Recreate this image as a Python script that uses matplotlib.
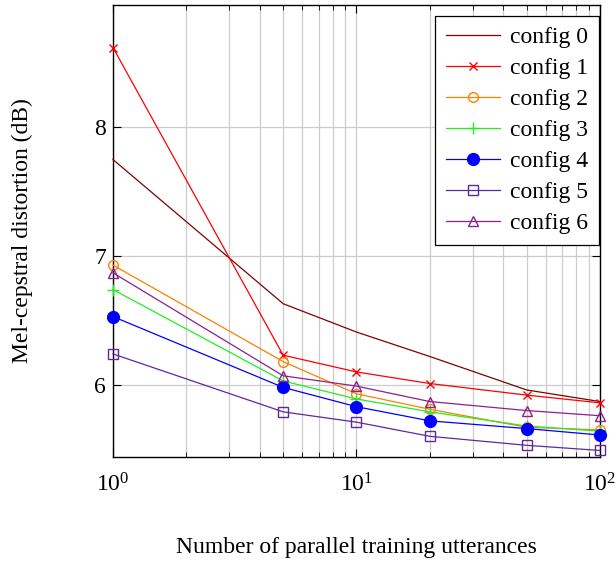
import matplotlib
matplotlib.use("Agg")
import matplotlib.pyplot as plt
from matplotlib.ticker import LogLocator, NullFormatter

plt.rcParams["font.family"] = ["Liberation Serif", "DejaVu Serif"]
plt.rcParams["mathtext.fontset"] = "stix"

n_utts = [1, 5, 10, 20, 50, 100]
config0 = [7.75, 6.63, 6.41, 6.22, 5.96, 5.87]
config1 = [8.62, 6.23, 6.10, 6.01, 5.92, 5.86]
config2 = [6.93, 6.18, 5.93, 5.81, 5.67, 5.65]
config3 = [6.74, 6.03, 5.89, 5.79, 5.68, 5.64]
config4 = [6.53, 5.98, 5.83, 5.72, 5.66, 5.61]
config5 = [6.24, 5.79, 5.71, 5.60, 5.53, 5.49]
config6 = [6.87, 6.07, 5.99, 5.87, 5.80, 5.76]

series = [
    ("config 0", config0, "#800000", None, 7, False),
    ("config 1", config1, "#ff0000", "x", 6, False),
    ("config 2", config2, "#ff8000", "o", 7, False),
    ("config 3", config3, "#22ee22", "+", 8, False),
    ("config 4", config4, "#0000ff", "o", 8.5, True),
    ("config 5", config5, "#5c2a9d", "s", 7.5, False),
    ("config 6", config6, "#8e1f8e", "^", 7, False),
]

fig = plt.figure(figsize=(6.15, 5.62), dpi=100)
ax = fig.add_axes([0.1837, 0.187, 0.7919, 0.804])

for label, vals, col, mk, ms, filled in series:
    ax.plot(n_utts, vals, color=col, lw=0.9, marker=mk, markersize=ms,
            markerfacecolor=col if filled else "none", markeredgecolor=col,
            markeredgewidth=1.0, label=label, clip_on=False, zorder=3)

ax.set_xscale("log")
ax.set_xlim(1, 100)
ax.set_ylim(5.44, 8.95)
ax.set_yticks([6, 7, 8])
ax.xaxis.set_minor_locator(LogLocator(base=10, subs=range(2, 10)))
ax.xaxis.set_minor_formatter(NullFormatter())

ax.grid(True, which="major", color="#cccccc", lw=0.9)
ax.grid(True, which="minor", axis="x", color="#cccccc", lw=0.9)
ax.set_axisbelow(True)
ax.tick_params(which="both", direction="in", top=True, right=True, labelsize=17)
ax.tick_params(which="major", length=6)
ax.tick_params(which="minor", length=3.5)
ax.tick_params(axis="x", which="major", pad=12)
ax.tick_params(axis="y", which="major", pad=5)
for sp in ax.spines.values():
    sp.set_linewidth(1.0)

ax.set_xlabel("Number of parallel training utterances", fontsize=17, labelpad=29)
ax.set_ylabel("Mel-cepstral distortion (dB)", fontsize=17, labelpad=44)

leg = ax.legend(loc="upper right", bbox_to_anchor=(0.997, 0.976), fontsize=17,
                frameon=True, fancybox=False, edgecolor="black", framealpha=1,
                handlelength=2.3, labelspacing=0.4, borderpad=0.45,
                handletextpad=0.4, borderaxespad=0.0)
leg.get_frame().set_linewidth(0.9)

fig.savefig("out.png", dpi=100)
